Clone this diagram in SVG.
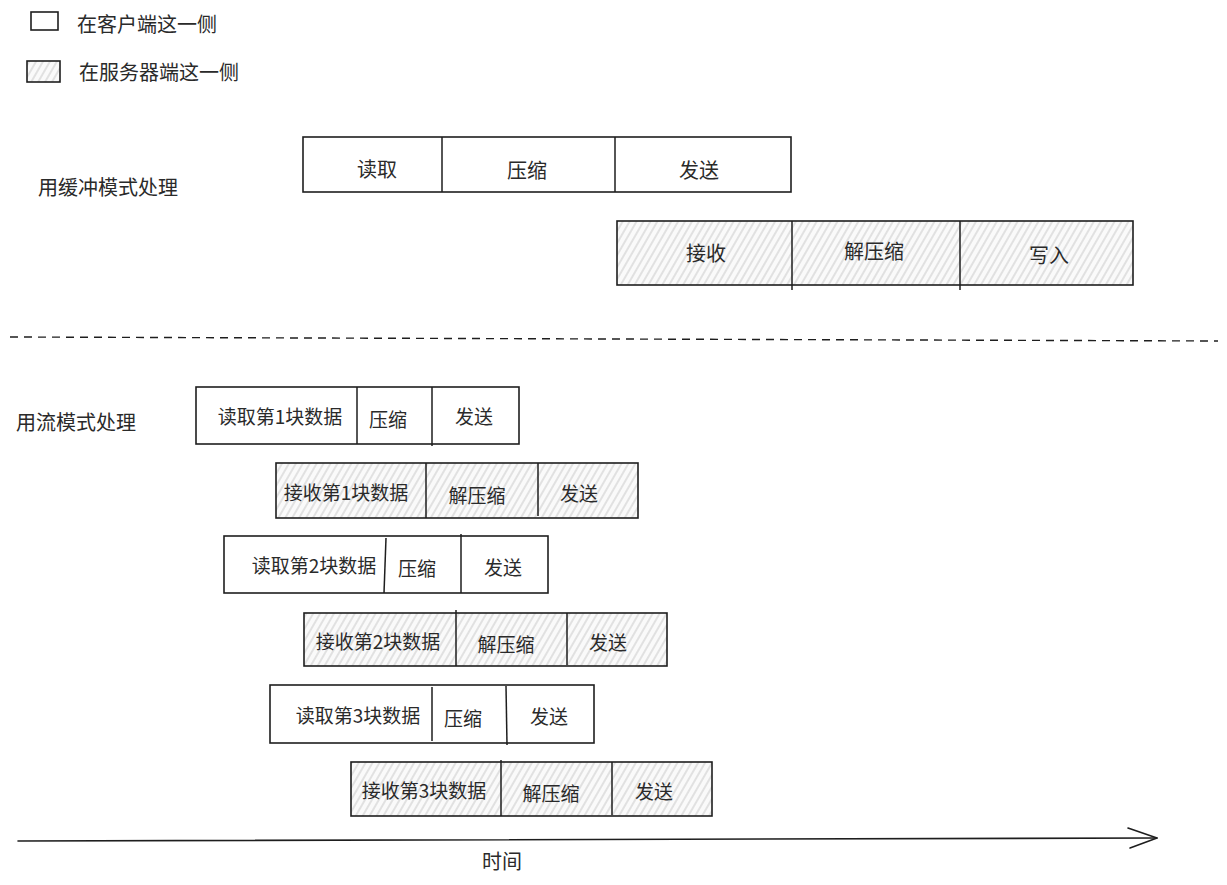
<svg xmlns="http://www.w3.org/2000/svg" width="1227" height="885" viewBox="0 0 1227 885">
<defs>
<pattern id="hatch" width="6" height="6" patternUnits="userSpaceOnUse" patternTransform="rotate(30)">
<rect width="6" height="6" fill="#fafafa"/>
<line x1="2" y1="0" x2="2" y2="6" stroke="#c8c8c8" stroke-width="1"/>
</pattern>
</defs>
<style>
text{font-family:"Noto Sans CJK SC","Noto Sans",sans-serif;fill:#2a2a2a;dominant-baseline:central;}
.t20{font-size:20px;}
.t19{font-size:19px;text-anchor:middle;}
.c{text-anchor:middle;}
.box{fill:#ffffff;stroke:#1e1e1e;stroke-width:1.6;}
.srv{fill:url(#hatch);stroke:#1e1e1e;stroke-width:1.6;}
.div{stroke:#1e1e1e;stroke-width:1.5;fill:none;}
.arrow{stroke:#1e1e1e;stroke-width:1.6;fill:none;stroke-linecap:round;}
</style>
<rect width="1227" height="885" fill="#ffffff"/>

<g id="legend-client">
<rect class="box" x="31" y="12" width="27" height="18"/>
<text class="t20" x="77" y="23">在客户端这一侧</text>
</g>
<g id="legend-server">
<rect class="srv" x="27" y="61" width="33" height="21"/>
<text class="t20" x="79" y="71">在服务器端这一侧</text>
</g>

<g id="label-buffer"><text class="t20" x="38" y="186">用缓冲模式处理</text></g>
<g id="label-stream"><text class="t20" x="16" y="421">用流模式处理</text></g>

<g id="buffer-client">
<rect class="box" x="303" y="137" width="488" height="55"/>
<line class="div" x1="442" y1="137" x2="442" y2="192"/>
<line class="div" x1="615" y1="137" x2="615" y2="192"/>
<text class="t20 c" x="377" y="168">读取</text>
<text class="t20 c" x="527" y="169">压缩</text>
<text class="t20 c" x="699" y="169">发送</text>
</g>

<g id="buffer-server">
<rect class="srv" x="617" y="221" width="516" height="64"/>
<line class="div" x1="792" y1="221" x2="792" y2="290"/>
<line class="div" x1="960" y1="221" x2="960" y2="290"/>
<text class="t20 c" x="706" y="252">接收</text>
<text class="t20 c" x="874" y="250">解压缩</text>
<text class="t20 c" x="1049" y="254">写入</text>
</g>

<g id="stream-read-1">
<rect class="box" x="196" y="387" width="323" height="57"/>
<line class="div" x1="357" y1="387" x2="357" y2="444"/>
<line class="div" x1="432" y1="387" x2="432" y2="446"/>
<text class="t19" x="280" y="415">读取第1块数据</text>
<text class="t19" x="388" y="418">压缩</text>
<text class="t19" x="474" y="415">发送</text>
</g>

<g id="stream-recv-1">
<rect class="srv" x="276" y="463" width="362" height="55"/>
<line class="div" x1="426" y1="463" x2="426" y2="518"/>
<line class="div" x1="538" y1="463" x2="538" y2="516"/>
<text class="t19" x="346" y="491">接收第1块数据</text>
<text class="t19" x="477" y="494">解压缩</text>
<text class="t19" x="579" y="492">发送</text>
</g>

<g id="stream-read-2">
<rect class="box" x="224" y="536" width="324" height="57"/>
<line class="div" x1="386" y1="538" x2="384" y2="593"/>
<line class="div" x1="461" y1="534" x2="461" y2="593"/>
<text class="t19" x="314" y="564">读取第2块数据</text>
<text class="t19" x="417" y="567">压缩</text>
<text class="t19" x="503" y="566">发送</text>
</g>

<g id="stream-recv-2">
<rect class="srv" x="304" y="613" width="363" height="53"/>
<line class="div" x1="456" y1="610" x2="456" y2="666"/>
<line class="div" x1="567" y1="613" x2="567" y2="665"/>
<text class="t19" x="378" y="640">接收第2块数据</text>
<text class="t19" x="506" y="643">解压缩</text>
<text class="t19" x="608" y="641">发送</text>
</g>

<g id="stream-read-3">
<rect class="box" x="270" y="685" width="324" height="58"/>
<line class="div" x1="432" y1="687" x2="432" y2="741"/>
<line class="div" x1="506" y1="686" x2="507" y2="745"/>
<text class="t19" x="358" y="714">读取第3块数据</text>
<text class="t19" x="463" y="717">压缩</text>
<text class="t19" x="549" y="715">发送</text>
</g>

<g id="stream-recv-3">
<rect class="srv" x="351" y="762" width="361" height="54"/>
<line class="div" x1="501" y1="760" x2="501" y2="816"/>
<line class="div" x1="612" y1="762" x2="612" y2="815"/>
<text class="t19" x="424" y="789">接收第3块数据</text>
<text class="t19" x="551" y="792">解压缩</text>
<text class="t19" x="654" y="790">发送</text>
</g>

<g id="separator">
<line x1="10" y1="337" x2="1218" y2="341" stroke="#1e1e1e" stroke-width="1.4" stroke-dasharray="8 6"/>
</g>

<g id="connectors">
<line class="arrow" x1="18" y1="841" x2="1157" y2="838"/>
<path class="arrow" d="M1128 828 L1157 838 M1130 848 L1157 838"/>
</g>
<g id="label-time"><text class="t20 c" x="502" y="860">时间</text></g>
</svg>
